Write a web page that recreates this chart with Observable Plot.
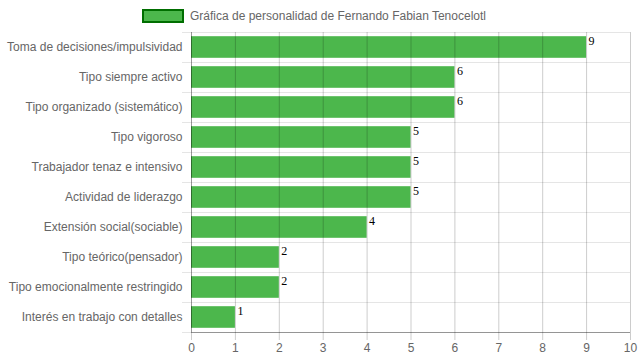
<!DOCTYPE html>
<html><head><meta charset="utf-8">
<script src="https://cdn.jsdelivr.net/npm/d3@7"></script>
<script src="https://cdn.jsdelivr.net/npm/@observablehq/plot@0.6"></script>
<style>
body{margin:0;background:#fff;font-family:"Liberation Sans",Arial,sans-serif;}
#legend{height:28px;display:flex;align-items:flex-start;justify-content:center;font-size:12px;color:#666;padding-right:11px;padding-top:9px;box-sizing:border-box;}
#legend .sw{width:38px;height:10px;background:rgba(0,153,0,0.7);border:2.5px solid #006e00;margin-right:6px;margin-top:0px;}
#legend .lt{line-height:14px;}
</style></head><body>
<div id="legend"><span class="sw"></span><span class="lt" id="lt"></span></div>
<div id="chart"></div>
<script>
const title = "Gráfica de personalidad de Fernando Fabian Tenocelotl";
const categories = [
  "Toma de decisiones/impulsividad",
  "Tipo siempre activo",
  "Tipo organizado (sistemático)",
  "Tipo vigoroso",
  "Trabajador tenaz e intensivo",
  "Actividad de liderazgo",
  "Extensión social(sociable)",
  "Tipo teórico(pensador)",
  "Tipo emocionalmente restringido",
  "Interés en trabajo con detalles"
];
const values = [9, 6, 6, 5, 5, 5, 4, 2, 2, 1];
const xTicks = [0, 1, 2, 3, 4, 5, 6, 7, 8, 9, 10];

document.getElementById("lt").textContent = title;
const n = categories.length;
const data = categories.map((name, i) => ({name, value: values[i], i}));
const bounds = d3.range(n + 1);
const centers = d3.range(n).map(i => i + 0.5);

const chart = Plot.plot({
  width: 639,
  height: 332,
  marginLeft: 191,
  marginRight: 9,
  marginTop: 4,
  marginBottom: 28,
  style: {fontFamily: "'Liberation Sans', Arial, sans-serif", fontSize: "12px", color: "#666", background: "#fff"},
  x: {domain: [0, 10], label: null},
  y: {domain: [0, n], reverse: true, label: null},
  marks: [
    Plot.gridY(bounds, {stroke: "#000", strokeOpacity: 0.1}),
    Plot.axisY(bounds, {tickSize: 9, tickFormat: () => "", stroke: "#000", strokeOpacity: 0.1, label: null}),
    Plot.rectX(data, {x1: 0, x2: "value", y1: "i", y2: d => d.i + 1, insetTop: 4.2, insetBottom: 4.2, fill: "#009900", fillOpacity: 0.7}),
    Plot.gridX(xTicks, {stroke: "#000", strokeOpacity: 0.2}),
    Plot.axisX(xTicks, {tickSize: 8, tickPadding: 3, stroke: "#000", strokeOpacity: 0.2, fill: "#666", fontSize: 12, label: null}),
    Plot.ruleY([n], {stroke: "#000", strokeOpacity: 0.35}),
    Plot.ruleX([0], {stroke: "#000", strokeOpacity: 0.25}),
    Plot.axisY(centers, {tickSize: 0, tickPadding: 9, tickFormat: d => categories[Math.floor(d)], fill: "#666", fontSize: 12, label: null}),
    Plot.text(data, {x: "value", y: "i", text: d => String(d.value), textAnchor: "start", lineAnchor: "top", dx: 2, dy: 4, fontFamily: "'Liberation Serif', 'Times New Roman', serif", fontSize: 12, fill: "#000"})
  ]
});
document.getElementById("chart").appendChild(chart);
</script>
</body></html>
